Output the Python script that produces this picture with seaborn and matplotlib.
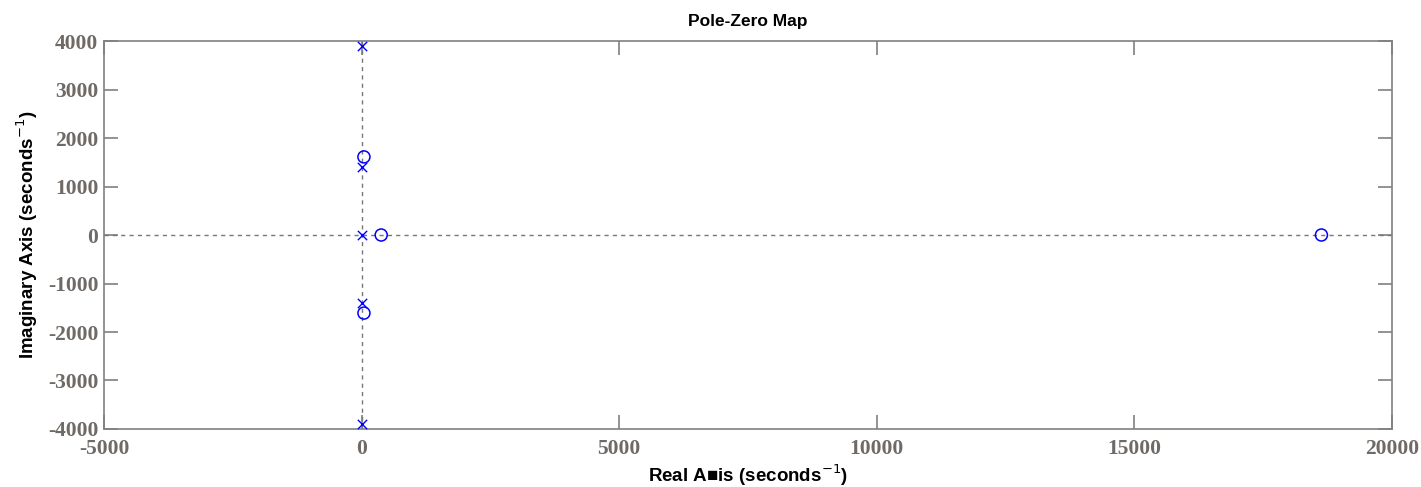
import seaborn as sns
import matplotlib.pyplot as plt
import pandas as pd

# pole / zero locations
pole_re = [0, 0, 0, 0, 0]
pole_im = [3900, 1400, 0, -1400, -3900]
zero_re = [45, 380, 45, 18630]
zero_im = [1610, 0, -1610, 0]

x_ticks = [-5000, 0, 5000, 10000, 15000, 20000]
y_ticks = [-4000, -3000, -2000, -1000, 0, 1000, 2000, 3000, 4000]

poles = pd.DataFrame({'re': pole_re, 'im': pole_im})
zeros = pd.DataFrame({'re': zero_re, 'im': zero_im})

sns.set_style("white")
plt.rcParams['axes.unicode_minus'] = False
fig = plt.figure(figsize=(14.21, 4.87), dpi=100)
ax = fig.add_axes([0.0732, 0.1191, 0.9064, 0.7967])

ax.axhline(0, color='#777777', ls=(0, (3, 3)), lw=1, zorder=1)
ax.axvline(0, color='#777777', ls=(0, (3, 3)), lw=1, zorder=1)

sns.scatterplot(data=poles, x='re', y='im', marker='x', color='blue',
                s=45, linewidth=1, ax=ax, zorder=3)
sns.scatterplot(data=zeros, x='re', y='im', marker='o', facecolor='none',
                edgecolor='blue', s=75, linewidth=1.1, ax=ax, zorder=3)

ax.set_xlim(-5000, 20000)
ax.set_ylim(-4000, 4000)
ax.set_xticks(x_ticks)
ax.set_yticks(y_ticks)
ax.tick_params(direction='in', length=10, width=1.2, color='#808080',
               top=True, right=True, bottom=True, left=True)
ax.tick_params(axis='x', pad=7)
ax.tick_params(axis='y', pad=4)
for lab in ax.get_xticklabels() + ax.get_yticklabels():
    lab.set_fontfamily('Liberation Serif')
    lab.set_fontweight('bold')
    lab.set_fontsize(15.5)
    lab.set_color('#6f6a66')
for sp in ax.spines.values():
    sp.set_color('#808080')
    sp.set_linewidth(1.2)

ax.set_xlabel('Real A\u25a0is (seconds$^{-1}$)', fontsize=13.5, fontweight='bold',
              family='Liberation Sans', color='black', labelpad=3)
ax.set_ylabel('Imaginary Axis (seconds$^{-1}$)', fontsize=13.5, fontweight='bold',
              family='Liberation Sans', color='black', labelpad=6)
ax.set_title('Pole-Zero Map', fontsize=12.5, fontweight='bold',
             family='Liberation Sans', color='black', pad=11)

plt.savefig('out.png', dpi=100)
